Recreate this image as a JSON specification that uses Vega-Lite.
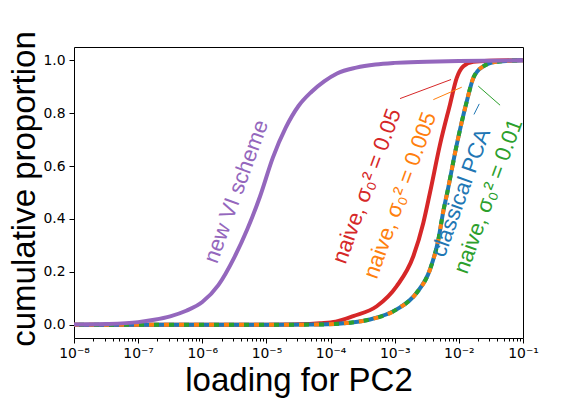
{
  "$schema": "https://vega.github.io/schema/vega-lite/v6.json",
  "width": 449,
  "height": 291,
  "autosize": {"type": "none"},
  "padding": {"left": 74, "top": 47, "right": 59, "bottom": 61},
  "background": "white",
  "datasets": {
    "curves": [
      {"series": "naive 0.05", "x": 1e-8, "y": 0},
      {"series": "naive 0.05", "x": 1e-6, "y": 0},
      {"series": "naive 0.05", "x": 1e-5, "y": 0.0005},
      {"series": "naive 0.05", "x": 3.16e-5, "y": 0.002},
      {"series": "naive 0.05", "x": 6.84e-5, "y": 0.006},
      {"series": "naive 0.05", "x": 1.2e-4, "y": 0.012},
      {"series": "naive 0.05", "x": 2.26e-4, "y": 0.033},
      {"series": "naive 0.05", "x": 5.25e-4, "y": 0.07},
      {"series": "naive 0.05", "x": 1.074e-3, "y": 0.146},
      {"series": "naive 0.05", "x": 1.95e-3, "y": 0.259},
      {"series": "naive 0.05", "x": 2.79e-3, "y": 0.385},
      {"series": "naive 0.05", "x": 3.55e-3, "y": 0.5},
      {"series": "naive 0.05", "x": 5.08e-3, "y": 0.681},
      {"series": "naive 0.05", "x": 7.28e-3, "y": 0.833},
      {"series": "naive 0.05", "x": 9.27e-3, "y": 0.933},
      {"series": "naive 0.05", "x": 1.175e-2, "y": 0.977},
      {"series": "naive 0.05", "x": 1.68e-2, "y": 0.994},
      {"series": "naive 0.05", "x": 3e-2, "y": 0.998},
      {"series": "naive 0.05", "x": 0.1, "y": 1.0},

      {"series": "classical PCA", "x": 1e-8, "y": 0},
      {"series": "classical PCA", "x": 1e-5, "y": 0},
      {"series": "classical PCA", "x": 6.84e-5, "y": 0.001},
      {"series": "classical PCA", "x": 2e-4, "y": 0.008},
      {"series": "classical PCA", "x": 4.12e-4, "y": 0.02},
      {"series": "classical PCA", "x": 1.074e-3, "y": 0.058},
      {"series": "classical PCA", "x": 2.2e-3, "y": 0.121},
      {"series": "classical PCA", "x": 3.55e-3, "y": 0.209},
      {"series": "classical PCA", "x": 4.79e-3, "y": 0.322},
      {"series": "classical PCA", "x": 5.73e-3, "y": 0.43},
      {"series": "classical PCA", "x": 6.6e-3, "y": 0.5},
      {"series": "classical PCA", "x": 9.27e-3, "y": 0.681},
      {"series": "classical PCA", "x": 1.33e-2, "y": 0.845},
      {"series": "classical PCA", "x": 1.68e-2, "y": 0.933},
      {"series": "classical PCA", "x": 2.4e-2, "y": 0.977},
      {"series": "classical PCA", "x": 3.89e-2, "y": 0.994},
      {"series": "classical PCA", "x": 0.1, "y": 1.0},

      {"series": "naive 0.005", "x": 1e-8, "y": 0},
      {"series": "naive 0.005", "x": 1e-5, "y": 0},
      {"series": "naive 0.005", "x": 6.84e-5, "y": 0.001},
      {"series": "naive 0.005", "x": 2e-4, "y": 0.008},
      {"series": "naive 0.005", "x": 4.12e-4, "y": 0.02},
      {"series": "naive 0.005", "x": 1.074e-3, "y": 0.058},
      {"series": "naive 0.005", "x": 2.2e-3, "y": 0.121},
      {"series": "naive 0.005", "x": 3.55e-3, "y": 0.209},
      {"series": "naive 0.005", "x": 4.79e-3, "y": 0.322},
      {"series": "naive 0.005", "x": 5.73e-3, "y": 0.43},
      {"series": "naive 0.005", "x": 6.6e-3, "y": 0.5},
      {"series": "naive 0.005", "x": 9.27e-3, "y": 0.681},
      {"series": "naive 0.005", "x": 1.33e-2, "y": 0.845},
      {"series": "naive 0.005", "x": 1.68e-2, "y": 0.933},
      {"series": "naive 0.005", "x": 2.4e-2, "y": 0.977},
      {"series": "naive 0.005", "x": 3.89e-2, "y": 0.994},
      {"series": "naive 0.005", "x": 0.1, "y": 1.0},

      {"series": "naive 0.01", "x": 1e-8, "y": 0},
      {"series": "naive 0.01", "x": 1e-5, "y": 0},
      {"series": "naive 0.01", "x": 6.84e-5, "y": 0.001},
      {"series": "naive 0.01", "x": 2e-4, "y": 0.008},
      {"series": "naive 0.01", "x": 4.12e-4, "y": 0.02},
      {"series": "naive 0.01", "x": 1.074e-3, "y": 0.058},
      {"series": "naive 0.01", "x": 2.2e-3, "y": 0.121},
      {"series": "naive 0.01", "x": 3.55e-3, "y": 0.209},
      {"series": "naive 0.01", "x": 4.79e-3, "y": 0.322},
      {"series": "naive 0.01", "x": 5.73e-3, "y": 0.43},
      {"series": "naive 0.01", "x": 6.6e-3, "y": 0.5},
      {"series": "naive 0.01", "x": 9.27e-3, "y": 0.681},
      {"series": "naive 0.01", "x": 1.33e-2, "y": 0.845},
      {"series": "naive 0.01", "x": 1.68e-2, "y": 0.933},
      {"series": "naive 0.01", "x": 2.4e-2, "y": 0.977},
      {"series": "naive 0.01", "x": 3.89e-2, "y": 0.994},
      {"series": "naive 0.01", "x": 0.1, "y": 1.0},

      {"series": "new VI scheme", "x": 1e-8, "y": 0.001},
      {"series": "new VI scheme", "x": 3.16e-8, "y": 0.003},
      {"series": "new VI scheme", "x": 1e-7, "y": 0.01},
      {"series": "new VI scheme", "x": 1.78e-7, "y": 0.019},
      {"series": "new VI scheme", "x": 3.16e-7, "y": 0.032},
      {"series": "new VI scheme", "x": 5.62e-7, "y": 0.053},
      {"series": "new VI scheme", "x": 1e-6, "y": 0.086},
      {"series": "new VI scheme", "x": 1.78e-6, "y": 0.15},
      {"series": "new VI scheme", "x": 3.16e-6, "y": 0.255},
      {"series": "new VI scheme", "x": 5.01e-6, "y": 0.36},
      {"series": "new VI scheme", "x": 7.94e-6, "y": 0.485},
      {"series": "new VI scheme", "x": 1.26e-5, "y": 0.632},
      {"series": "new VI scheme", "x": 2e-5, "y": 0.745},
      {"series": "new VI scheme", "x": 3.16e-5, "y": 0.827},
      {"series": "new VI scheme", "x": 5.01e-5, "y": 0.88},
      {"series": "new VI scheme", "x": 7.94e-5, "y": 0.92},
      {"series": "new VI scheme", "x": 1.26e-4, "y": 0.95},
      {"series": "new VI scheme", "x": 2.51e-4, "y": 0.972},
      {"series": "new VI scheme", "x": 5.01e-4, "y": 0.984},
      {"series": "new VI scheme", "x": 1e-3, "y": 0.99},
      {"series": "new VI scheme", "x": 3.16e-3, "y": 0.994},
      {"series": "new VI scheme", "x": 1e-2, "y": 0.997},
      {"series": "new VI scheme", "x": 0.1, "y": 1.0}
    ],
    "labels": [
      {"series": "new VI scheme", "text": "new VI scheme", "x": 3.36e-6, "y": 0.504},
      {"series": "naive 0.05", "text": "naive, σ₀² = 0.05", "x": 3.66e-4, "y": 0.524},
      {"series": "naive 0.005", "text": "naive, σ₀² = 0.005", "x": 1.21e-3, "y": 0.489},
      {"series": "classical PCA", "text": "classical PCA", "x": 1.074e-2, "y": 0.499},
      {"series": "naive 0.01", "text": "naive, σ₀² = 0.01", "x": 2.88e-2, "y": 0.486}
    ],
    "leaders": [
      {"series": "naive 0.05", "x": 1.21e-3, "y": 0.855, "x2": 7.55e-3, "y2": 0.927},
      {"series": "naive 0.005", "x": 4.0e-3, "y": 0.851, "x2": 1.109e-2, "y2": 0.898},
      {"series": "classical PCA", "x": 1.72e-2, "y": 0.795, "x2": 2.08e-2, "y2": 0.835},
      {"series": "naive 0.01", "x": 2.01e-2, "y": 0.902, "x2": 4.39e-2, "y2": 0.83}
    ]
  },
  "encoding": {
    "x": {
      "field": "x", "type": "quantitative",
      "scale": {"type": "log", "domain": [1e-8, 0.1], "nice": false},
      "axis": {
        "title": "loading for PC2",
        "values": [1e-8, 2e-8, 3e-8, 4e-8, 5e-8, 6e-8, 7e-8, 8e-8, 9e-8,
                   1e-7, 2e-7, 3e-7, 4e-7, 5e-7, 6e-7, 7e-7, 8e-7, 9e-7,
                   1e-6, 2e-6, 3e-6, 4e-6, 5e-6, 6e-6, 7e-6, 8e-6, 9e-6,
                   1e-5, 2e-5, 3e-5, 4e-5, 5e-5, 6e-5, 7e-5, 8e-5, 9e-5,
                   1e-4, 2e-4, 3e-4, 4e-4, 5e-4, 6e-4, 7e-4, 8e-4, 9e-4,
                   1e-3, 2e-3, 3e-3, 4e-3, 5e-3, 6e-3, 7e-3, 8e-3, 9e-3,
                   1e-2, 2e-2, 3e-2, 4e-2, 5e-2, 6e-2, 7e-2, 8e-2, 9e-2, 0.1],
        "labelExpr": "abs(log(datum.value)/LN10 - round(log(datum.value)/LN10)) < 0.001 ? '10⁻' + substring('⁰¹²³⁴⁵⁶⁷⁸⁹', -round(log(datum.value)/LN10), -round(log(datum.value)/LN10) + 1) : ''",
        "tickSize": {"condition": {"test": "abs(log(datum.value)/LN10 - round(log(datum.value)/LN10)) < 0.001", "value": 5}, "value": 3},
        "labelOverlap": false,
        "labelFlush": false,
        "labelPadding": 3,
        "titleX": 224.5,
        "titleY": 52,
        "titleBaseline": "alphabetic",
        "titleAlign": "center"
      }
    },
    "y": {
      "field": "y", "type": "quantitative",
      "scale": {"domain": [-0.05, 1.05], "nice": false, "zero": false},
      "axis": {
        "title": "cumulative proportion",
        "values": [0, 0.2, 0.4, 0.6, 0.8, 1.0],
        "format": ".1f",
        "tickSize": 5,
        "labelPadding": 4,
        "titleAngle": -90,
        "titleX": -40,
        "titleY": 141.5,
        "titleBaseline": "alphabetic",
        "titleAlign": "center"
      }
    },
    "color": {
      "field": "series", "type": "nominal",
      "scale": {
        "domain": ["new VI scheme", "naive 0.05", "naive 0.005", "classical PCA", "naive 0.01"],
        "range": ["#9467bd", "#d62728", "#ff7f0e", "#1f77b4", "#2ca02c"]
      },
      "legend": null
    }
  },
  "layer": [
    {
      "data": {"name": "curves"},
      "transform": [{"filter": "datum.series == 'naive 0.05'"}],
      "mark": {"type": "line", "strokeWidth": 4, "interpolate": "monotone", "clip": true, "strokeCap": "butt"}
    },
    {
      "data": {"name": "curves"},
      "transform": [{"filter": "datum.series == 'classical PCA'"}],
      "mark": {"type": "line", "strokeWidth": 4, "interpolate": "monotone", "clip": true, "strokeCap": "butt"}
    },
    {
      "data": {"name": "curves"},
      "transform": [{"filter": "datum.series == 'naive 0.005'"}],
      "mark": {"type": "line", "strokeWidth": 4, "interpolate": "monotone", "clip": true, "strokeCap": "butt", "strokeDash": [5, 10], "strokeDashOffset": 0}
    },
    {
      "data": {"name": "curves"},
      "transform": [{"filter": "datum.series == 'naive 0.01'"}],
      "mark": {"type": "line", "strokeWidth": 4, "interpolate": "monotone", "clip": true, "strokeCap": "butt", "strokeDash": [5, 10], "strokeDashOffset": 10}
    },
    {
      "data": {"name": "curves"},
      "transform": [{"filter": "datum.series == 'new VI scheme'"}],
      "mark": {"type": "line", "strokeWidth": 4, "interpolate": "monotone", "clip": true, "strokeCap": "butt"}
    },
    {
      "data": {"name": "leaders"},
      "mark": {"type": "rule", "strokeWidth": 1},
      "encoding": {
        "x2": {"field": "x2"},
        "y2": {"field": "y2"}
      }
    },
    {
      "data": {"name": "labels"},
      "mark": {"type": "text", "angle": 290, "align": "center", "baseline": "middle", "font": "Liberation Sans", "fontSize": 22},
      "encoding": {
        "text": {"field": "text"}
      }
    }
  ],
  "config": {
    "view": {"stroke": "black", "strokeWidth": 1},
    "axis": {
      "grid": false,
      "domain": false,
      "tickColor": "black",
      "tickWidth": 1,
      "labelColor": "black",
      "labelFont": "DejaVu Sans",
      "labelFontSize": 13.9,
      "titleColor": "black",
      "titleFont": "Liberation Sans",
      "titleFontSize": 33,
      "titleFontWeight": "normal"
    }
  }
}
